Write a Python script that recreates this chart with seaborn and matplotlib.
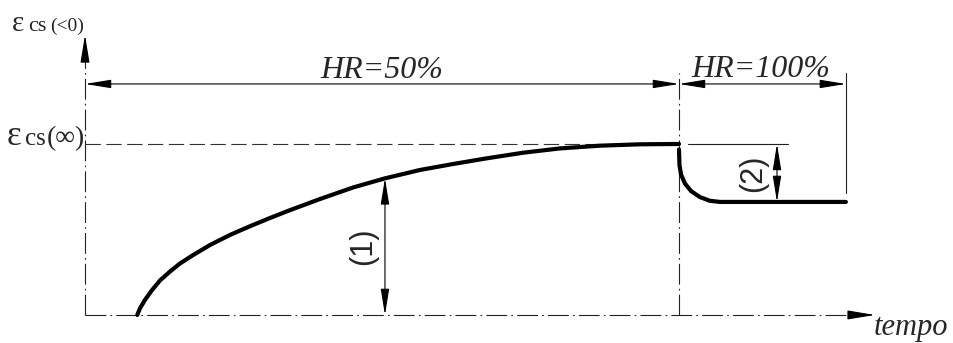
import numpy as np
import pandas as pd
import matplotlib
matplotlib.use("Agg")
import matplotlib.pyplot as plt
import seaborn as sns

# Shrinkage strain vs time: drying at HR=50% then wetting at HR=100%
t_dry = [0.880, 0.926, 1.010, 1.123, 1.263, 1.431, 1.599, 1.823, 2.104, 2.441,
         2.778, 3.114, 3.451, 3.956, 4.517, 5.051, 5.640, 6.200, 6.763, 7.379,
         7.997, 8.670, 9.343, 10.0]
eps_dry = [0.000, 0.039, 0.088, 0.143, 0.202, 0.254, 0.301, 0.351, 0.409, 0.468,
           0.519, 0.567, 0.613, 0.678, 0.746, 0.799, 0.848, 0.883, 0.916, 0.949,
           0.974, 0.990, 0.998, 1.0]
t_wet = [10.0, 10.0, 10.008, 10.035, 10.100, 10.205, 10.350, 10.515, 10.690, 12.81]
eps_wet = [1.0, 0.936, 0.877, 0.821, 0.769, 0.724, 0.690, 0.668, 0.661, 0.661]

t_change = 10.0        # switch from HR=50% to HR=100%
t_end = 12.81          # end of the wet period
eps_inf = 1.0          # final shrinkage eps_cs(inf)
t_dim1 = 5.05          # where dimension (1) is measured
t_dim2 = 11.65         # where dimension (2) is measured

labels_hr = ["HR=50%", "HR=100%"]

sns.set_theme(style="white")
plt.rcParams["lines.scale_dashes"] = False
serif = ["Liberation Serif", "DejaVu Serif"]
sans = ["Liberation Sans", "DejaVu Sans"]

fig = plt.figure(figsize=(9.54, 3.43), dpi=100)
ax = fig.add_axes([0, 0, 1, 1])

dashdot = (0, (15, 3, 1.2, 3))
thin = 0.8

# axes of the diagram
ax.plot([0, 0], [0, 1.49], color="#222", lw=thin, ls=dashdot)
ax.plot([0, 12.91], [0, 0], color="#222", lw=thin, ls=dashdot)
arrow_head = dict(arrowstyle="-|>,head_length=1.7,head_width=0.28",
                  color="black", lw=thin, shrinkA=0, shrinkB=0, mutation_scale=10)
ax.annotate("", xy=(0, 1.637), xytext=(0, 1.50), arrowprops=arrow_head)
ax.annotate("", xy=(13.30, 0), xytext=(12.91, 0), arrowprops=arrow_head)

# reference lines
ax.plot([0, t_change], [eps_inf, eps_inf], color="#333", lw=thin, ls=(0, (11, 4)))
ax.plot([t_change, t_change], [0, 1.415], color="#222", lw=thin, ls=dashdot)
ax.plot([t_end, t_end], [0.713, 1.415], color="#222", lw=thin)
ax.plot([10.15, 11.84], [eps_inf, eps_inf], color="#222", lw=thin)

# strain curves
dry = pd.DataFrame({"t": t_dry, "eps": eps_dry})
wet = pd.DataFrame({"t": t_wet, "eps": eps_wet})
sns.lineplot(data=dry, x="t", y="eps", sort=False, color="black", lw=3.0,
             ax=ax, solid_capstyle="round", solid_joinstyle="round")
sns.lineplot(data=wet, x="t", y="eps", sort=False, color="black", lw=3.0,
             ax=ax, solid_capstyle="round", solid_joinstyle="round")
ax.set_xlim(-1.431, 14.63)
ax.set_ylim(-0.164, 1.842)
ax.axis("off")

# dimension lines
dim = dict(arrowstyle="<|-|>,head_length=1.6,head_width=0.26",
           color="black", lw=thin, shrinkA=0, shrinkB=0, mutation_scale=10)
y_hr = 1.351
ax.annotate("", xy=(0, y_hr), xytext=(t_change, y_hr), arrowprops=dim)
ax.annotate("", xy=(t_change, y_hr), xytext=(t_end, y_hr), arrowprops=dim)
eps1 = float(np.interp(t_dim1, t_dry, eps_dry))
ax.annotate("", xy=(t_dim1, 0), xytext=(t_dim1, eps1), arrowprops=dim)
ax.annotate("", xy=(t_dim2, eps_wet[-1]), xytext=(t_dim2, eps_inf), arrowprops=dim)

# labels
ax.text(5.0, 1.386, labels_hr[0], family=serif, style="italic", fontsize=23,
        ha="center", va="baseline")
ax.text(11.38, 1.392, labels_hr[1], family=serif, style="italic", fontsize=23,
        ha="center", va="baseline")
ax.text(13.27, -0.117, "tempo", family=serif, style="italic", fontsize=22,
        ha="left", va="baseline")
ax.text(4.68, eps1 / 2, "(1)", family=sans, fontsize=22, rotation=90,
        ha="center", va="center")
ax.text(11.25, (eps_inf + eps_wet[-1]) / 2, "(2)", family=sans, fontsize=22,
        rotation=90, ha="center", va="center")

# y-axis labels
ax.text(-1.313, 0.994, "\u03b5", family=serif, fontsize=25, ha="left", va="baseline")
ax.text(-1.010, 0.994, "cs", family=serif, fontsize=18, ha="left", va="baseline")
ax.text(0, 0.994, "(\u221e)", family=serif, fontsize=20, ha="right", va="baseline")
ax.text(-1.229, 1.661, "\u03b5", family=serif, fontsize=21, ha="left", va="baseline")
ax.text(-0.960, 1.661, "cs", family=serif, fontsize=16, ha="left", va="baseline")
ax.text(-0.589, 1.661, "(<0)", family=serif, fontsize=14, ha="left", va="baseline")

fig.savefig("out.png", dpi=100)
